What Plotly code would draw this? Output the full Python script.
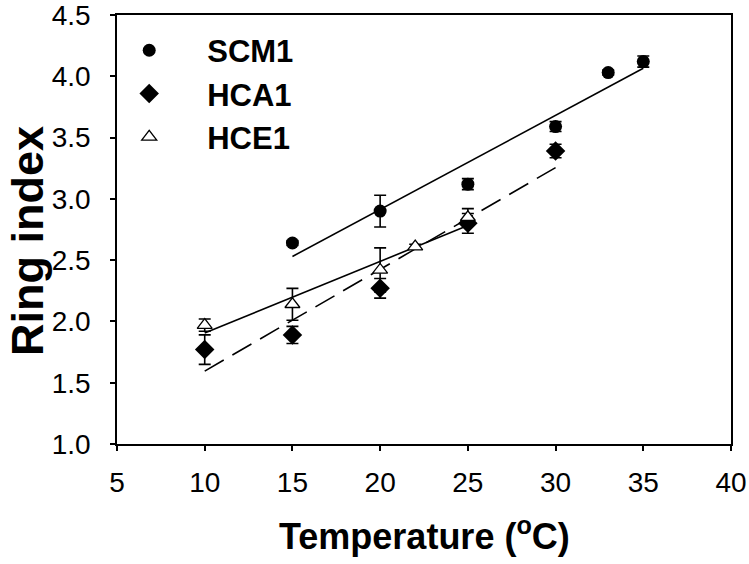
import plotly.graph_objects as go

# ---- data ----
scm1_temp = [15, 20, 25, 30, 33, 35]
scm1_ring = [2.64, 2.90, 3.12, 3.59, 4.03, 4.12]
scm1_err = [0.02, 0.13, 0.045, 0.04, 0.02, 0.045]

hca1_temp = [10, 15, 20, 25, 30]
hca1_ring = [1.77, 1.89, 2.27, 2.80, 3.39]
hca1_err = [0.12, 0.07, 0.08, 0.08, 0.055]

hce1_temp = [10, 15, 20, 22, 25]
hce1_ring = [1.97, 2.14, 2.42, 2.61, 2.85]
hce1_err = [0.05, 0.13, 0.18, 0.02, 0.07]

# regression line end points
scm1_fit_temp = [15, 35]
scm1_fit_ring = [2.53, 4.065]
hca1_fit_temp = [10, 30]
hca1_fit_ring = [1.595, 3.255]
hce1_fit_temp = [10, 25]
hce1_fit_ring = [1.905, 2.782]

x_ticks = [5, 10, 15, 20, 25, 30, 35, 40]
y_ticks = [1.0, 1.5, 2.0, 2.5, 3.0, 3.5, 4.0, 4.5]

x_title = "Temperature (<sup>o</sup>C)"
y_title = "Ring index"

FONT = "Arial, Liberation Sans, sans-serif"
BLACK = "#000000"

fig = go.Figure()

# fit lines
fig.add_trace(go.Scatter(x=hca1_fit_temp, y=hca1_fit_ring, mode="lines",
                         line=dict(color=BLACK, width=1.6, dash="22px,10px"),
                         showlegend=False, hoverinfo="skip"))
fig.add_trace(go.Scatter(x=hce1_fit_temp, y=hce1_fit_ring, mode="lines",
                         line=dict(color=BLACK, width=1.6),
                         showlegend=False, hoverinfo="skip"))
fig.add_trace(go.Scatter(x=scm1_fit_temp, y=scm1_fit_ring, mode="lines",
                         line=dict(color=BLACK, width=1.6),
                         showlegend=False, hoverinfo="skip"))

err_style = dict(type="data", visible=True, color=BLACK, thickness=1.6, width=6)

fig.add_trace(go.Scatter(
    x=scm1_temp, y=scm1_ring, mode="markers", name="SCM1",
    error_y=dict(array=scm1_err, **err_style),
    marker=dict(symbol="circle", size=13, color=BLACK, line=dict(width=0))))
fig.add_trace(go.Scatter(
    x=hca1_temp, y=hca1_ring, mode="markers", name="HCA1",
    error_y=dict(array=hca1_err, **err_style),
    marker=dict(symbol="diamond", size=15, color=BLACK, line=dict(width=0))))
fig.add_trace(go.Scatter(
    x=hce1_temp, y=hce1_ring, mode="markers", name="HCE1",
    error_y=dict(array=hce1_err, **err_style),
    marker=dict(symbol="triangle-up", size=13, color="white",
                line=dict(width=1.3, color=BLACK))))

axis_common = dict(
    showgrid=False, zeroline=False, showline=True, linecolor=BLACK, linewidth=1.5,
    mirror=True, ticks="outside", ticklen=5, tickwidth=1.5, tickcolor=BLACK,
    tickfont=dict(family=FONT, size=28, color=BLACK), automargin=False,
    ticklabeloverflow="allow",
)

fig.update_layout(
    width=749, height=564,
    margin=dict(l=117, r=18, t=15, b=120, autoexpand=False),
    paper_bgcolor="white", plot_bgcolor="white",
    xaxis=dict(range=[5, 40], tickvals=x_ticks, ticktext=[str(v) for v in x_ticks],
               ticklabelstandoff=8, **axis_common),
    yaxis=dict(range=[1, 4.5], tickvals=y_ticks, ticktext=[f"{v:.1f}" for v in y_ticks],
               ticklabelstandoff=14, **axis_common),
    legend=dict(x=-0.042, y=0.98, xanchor="left", yanchor="top",
                font=dict(family=FONT, size=31, color=BLACK, weight="bold"),
                bgcolor="rgba(0,0,0,0)", itemwidth=106, tracegroupgap=0),
    showlegend=True,
    annotations=[
        dict(text=x_title, xref="paper", yref="paper", x=0.5, y=-0.21,
             xanchor="center", yanchor="middle", showarrow=False,
             font=dict(family=FONT, size=36, color=BLACK, weight="bold")),
        dict(text=y_title, xref="paper", yref="paper", x=-0.1466, y=0.473,
             xanchor="center", yanchor="middle", showarrow=False, textangle=-90,
             font=dict(family=FONT, size=45, color=BLACK, weight="bold")),
    ],
)

fig.write_html("out.html", config={"displayModeBar": False},
               post_script="document.body.style.margin='0px';")
